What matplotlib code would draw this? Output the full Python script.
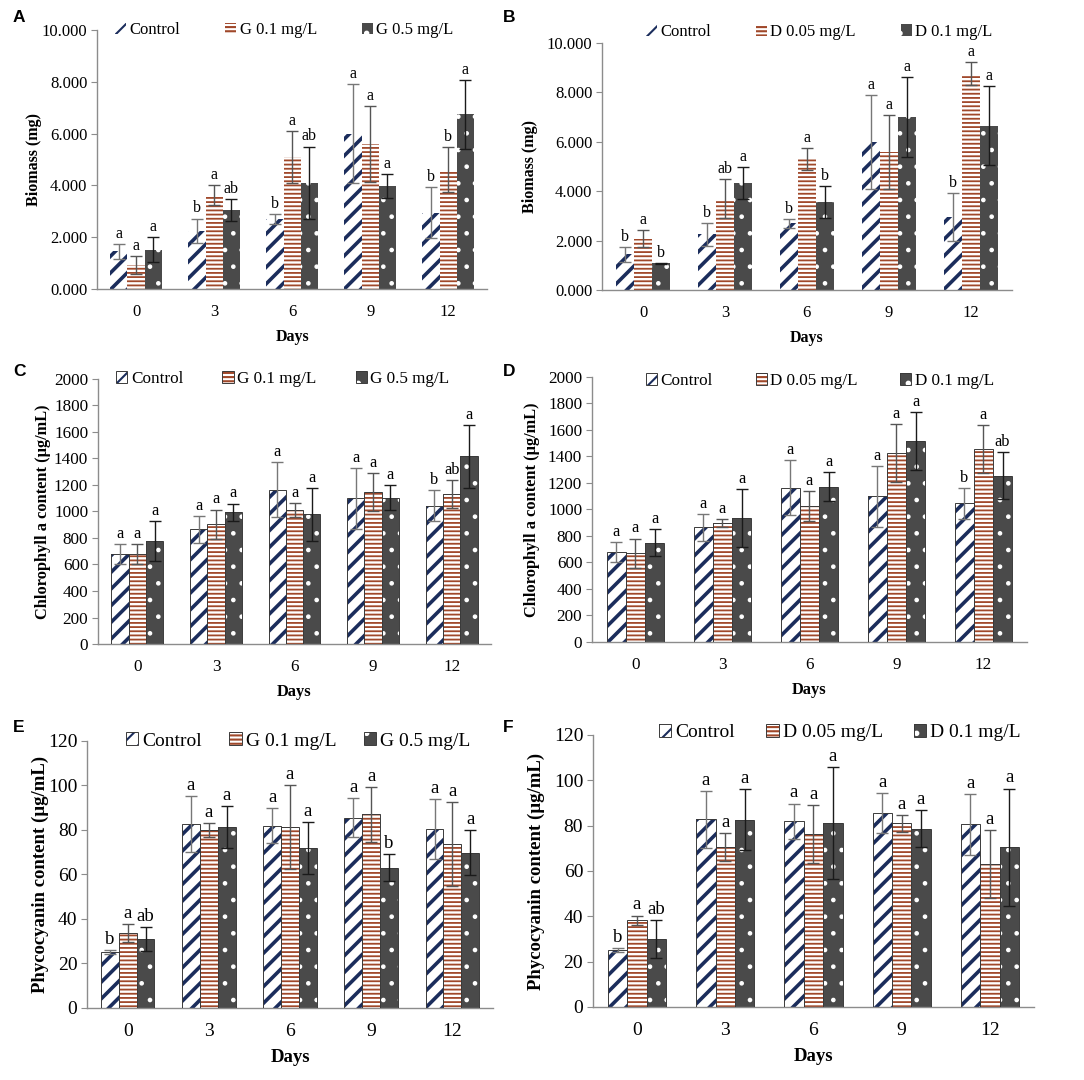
import matplotlib
matplotlib.use("Agg")
import matplotlib as mpl
import matplotlib.pyplot as plt
from matplotlib.patches import Patch
from matplotlib.ticker import FormatStrFormatter
import numpy as np

plt.rcParams['font.family'] = ['Liberation Serif', 'DejaVu Serif']
plt.rcParams['hatch.linewidth'] = 1.5

days = ['0', '3', '6', '9', '12']

# ---- Biomass (mg) ----
ctrl_bio = [1.45, 2.25, 2.70, 6.00, 2.95]
ctrl_bio_err = [0.30, 0.47, 0.18, 1.90, 0.97]
ctrl_bio_let_g = ['a', 'b', 'b', 'a', 'b']
ctrl_bio_let_d = ['b', 'b', 'b', 'a', 'b']
g01_bio = [0.93, 3.62, 5.10, 5.60, 4.60]
g01_bio_err = [0.34, 0.38, 1.00, 1.47, 0.87]
g01_bio_let = ['a', 'a', 'a', 'a', 'b']
g05_bio = [1.52, 3.05, 4.10, 3.97, 6.75]
g05_bio_err = [0.48, 0.42, 1.40, 0.46, 1.33]
g05_bio_let = ['a', 'ab', 'ab', 'a', 'a']
d005_bio = [2.08, 3.70, 5.30, 5.60, 8.75]
d005_bio_err = [0.34, 0.80, 0.45, 1.50, 0.47]
d005_bio_let = ['a', 'ab', 'a', 'a', 'a']
d01_bio = [1.08, 4.32, 3.55, 7.00, 6.65]
d01_bio_err = [0.02, 0.65, 0.65, 1.62, 1.60]
d01_bio_let = ['b', 'a', 'b', 'a', 'a']

# ---- Chlorophyll a content (ug/mL) ----
ctrl_chl = [680, 865, 1165, 1100, 1045]
ctrl_chl_err = [75, 100, 210, 230, 115]
ctrl_chl_let = ['a', 'a', 'a', 'a', 'b']
g01_chl = [680, 905, 1010, 1145, 1130]
g01_chl_err = [75, 110, 55, 145, 105]
g01_chl_let = ['a', 'a', 'a', 'a', 'ab']
g05_chl = [780, 995, 980, 1105, 1415]
g05_chl_err = [150, 65, 200, 95, 240]
g05_chl_let = ['a', 'a', 'a', 'a', 'a']
d005_chl = [670, 900, 1025, 1425, 1455]
d005_chl_err = [110, 30, 115, 220, 180]
d005_chl_let = ['a', 'a', 'a', 'a', 'a']
d01_chl = [750, 935, 1170, 1515, 1255]
d01_chl_err = [100, 220, 110, 220, 180]
d01_chl_let = ['a', 'a', 'a', 'a', 'ab']

# ---- Phycocyanin content (ug/mL) ----
ctrl_pc = [25.2, 82.8, 82.0, 85.6, 80.5]
ctrl_pc_err = [0.8, 12.5, 7.7, 8.7, 13.5]
ctrl_pc_let = ['b', 'a', 'a', 'a', 'a']
g01_pc = [33.7, 80.0, 81.3, 87.0, 73.6]
g01_pc_err = [3.9, 3.3, 19.0, 12.2, 19.0]
g01_pc_let = ['a', 'a', 'a', 'a', 'a']
g05_pc = [31.0, 81.3, 71.8, 63.0, 69.8]
g05_pc_err = [5.3, 9.4, 11.6, 6.0, 10.2]
g05_pc_let = ['ab', 'a', 'a', 'b', 'a']
d005_pc = [38.3, 70.5, 76.4, 81.0, 63.2]
d005_pc_err = [2.0, 6.3, 12.8, 3.6, 15.0]
d005_pc_let = ['a', 'a', 'a', 'a', 'a']
d01_pc = [30.0, 82.7, 81.2, 78.6, 70.4]
d01_pc_err = [8.2, 13.5, 24.6, 8.2, 25.9]
d01_pc_let = ['ab', 'a', 'a', 'a', 'a']

g_labels = ['Control', 'G 0.1 mg/L', 'G 0.5 mg/L']
d_labels = ['Control', 'D 0.05 mg/L', 'D 0.1 mg/L']

# styles: (face, hatchcolor, hatch, errcolor, hatch linewidth)
styles = [
    ('white', '#1b2d5c', '//', '#777777', 2.6),
    ('white', '#a0482a', '----', '#555555', 1.3),
    ('#4a4a4a', 'white', '.', '#1a1a1a', 0.9),
]
edgecol = '#3a3a3a'


def with_hatch_lw(artist, lw):
    if hasattr(artist, 'set_hatch_linewidth'):
        try:
            artist.set_hatch_linewidth(lw)
        except Exception:
            pass
    orig = artist.draw

    def draw(renderer, _orig=orig, _lw=lw):
        with mpl.rc_context({'hatch.linewidth': _lw}):
            _orig(renderer)
    artist.draw = draw


fig = plt.figure(figsize=(10.84, 10.80), dpi=100)

panels = [
    # rect, letter, vals, errs, lets, labels, ymax, step, fmt, ylabel, fs,
    # legend anchor, column spacing, ylabel pad, draw bar edges
    ([0.0895, 0.7324, 0.360, 0.2398], 'A',
     [ctrl_bio, g01_bio, g05_bio], [ctrl_bio_err, g01_bio_err, g05_bio_err],
     [ctrl_bio_let_g, g01_bio_let, g05_bio_let], g_labels, 10, 2, '%.3f',
     'Biomass (mg)', 11.5, (0.48, 1.0), 2.7, 0, False),
    ([0.5554, 0.7315, 0.378, 0.2287], 'B',
     [ctrl_bio, d005_bio, d01_bio], [ctrl_bio_err, d005_bio_err, d01_bio_err],
     [ctrl_bio_let_d, d005_bio_let, d01_bio_let], d_labels, 10, 2, '%.3f',
     'Biomass (mg)', 11.5, (0.53, 1.045), 2.7, 6, False),
    ([0.0904, 0.4037, 0.3626, 0.2454], 'C',
     [ctrl_chl, g01_chl, g05_chl], [ctrl_chl_err, g01_chl_err, g05_chl_err],
     [ctrl_chl_let, g01_chl_let, g05_chl_let], g_labels, 2000, 200, '%d',
     'Chlorophyll a content (µg/mL)', 11.8, (0.47, 1.0), 2.3, 2, True),
    ([0.5461, 0.4056, 0.4013, 0.2454], 'D',
     [ctrl_chl, d005_chl, d01_chl], [ctrl_chl_err, d005_chl_err, d01_chl_err],
     [ctrl_chl_let, d005_chl_let, d01_chl_let], d_labels, 2000, 200, '%d',
     'Chlorophyll a content (µg/mL)', 11.8, (0.524, 0.985), 2.5, 6, True),
    ([0.0803, 0.0667, 0.3745, 0.2472], 'E',
     [ctrl_pc, g01_pc, g05_pc], [ctrl_pc_err, g01_pc_err, g05_pc_err],
     [ctrl_pc_let, g01_pc_let, g05_pc_let], g_labels, 120, 20, '%d',
     'Phycocyanin content (µg/mL)', 13.5, (0.52, 1.0), 1.4, -1, True),
    ([0.5470, 0.0676, 0.4068, 0.2519], 'F',
     [ctrl_pc, d005_pc, d01_pc], [ctrl_pc_err, d005_pc_err, d01_pc_err],
     [ctrl_pc_let, d005_pc_let, d01_pc_let], d_labels, 120, 20, '%d',
     'Phycocyanin content (µg/mL)', 13.5, (0.56, 1.01), 1.6, 6, True),
]

width = 0.22
x = np.arange(len(days))

for (rect, letter, vals, errs, lets, labels, ymax, step, fmt, ylabel, fs,
     anchor, colsp, ypad, edges) in panels:
    ax = fig.add_axes(rect)
    handles = []
    for i, (v, e, l) in enumerate(zip(vals, errs, lets)):
        face, hcol, hatch, ecol, hlw = styles[i]
        xi = x + (i - 1) * width
        bars = ax.bar(xi, v, width, color=face, edgecolor=hcol, hatch=hatch,
                      linewidth=0, zorder=2)
        for b in bars:
            with_hatch_lw(b, hlw)
        if edges:
            ax.bar(xi, v, width, fill=False, edgecolor=edgecol, linewidth=0.7, zorder=3)
        ax.errorbar(xi, v, yerr=e, fmt='none', ecolor=ecol, elinewidth=1.0,
                    capsize=4, capthick=1.0, zorder=4)
        for xx, vv, ee, ll in zip(xi, v, e, l):
            ax.text(xx, vv + ee + ymax * 0.008, ll, ha='center', va='bottom',
                    fontsize=fs, zorder=5)
        hp = Patch(facecolor=face, edgecolor=hcol, hatch=hatch, linewidth=0)
        with_hatch_lw(hp, hlw)
        if edges:
            ep = Patch(fill=False, edgecolor=edgecol, linewidth=0.7)
            handles.append((hp, ep))
        else:
            handles.append(hp)
    ax.set_xlim(-0.5, 4.5)
    ax.set_ylim(0, ymax)
    ax.set_yticks(np.arange(0, ymax + step / 2, step))
    ax.yaxis.set_major_formatter(FormatStrFormatter(fmt))
    ax.set_xticks(x)
    ax.set_xticklabels(days)
    for s in ['top', 'right']:
        ax.spines[s].set_visible(False)
    for s in ['left', 'bottom']:
        ax.spines[s].set_color('#8c8c8c')
        ax.spines[s].set_linewidth(1.0)
    ax.tick_params(axis='y', length=4, color='#8c8c8c', labelsize=fs + 0.5, pad=3)
    ax.tick_params(axis='x', length=0, labelsize=fs + 0.5, pad=11)
    ax.set_ylabel(ylabel, fontsize=fs, fontweight='bold', labelpad=ypad)
    ax.set_xlabel('Days', fontsize=fs, fontweight='bold', labelpad=6)
    leg = ax.legend(handles, labels, loc='center', bbox_to_anchor=anchor, ncol=3,
                    frameon=False, fontsize=fs + 0.5, handlelength=0.65,
                    handleheight=0.65, handletextpad=0.2, columnspacing=colsp,
                    borderaxespad=0)
    # panel letter
    pos = ax.get_position()
    lx = 13 / 1084 if pos.x0 < 0.3 else 503 / 1084
    ly = {'A': 17, 'B': 17, 'C': 372, 'D': 372, 'E': 727, 'F': 727}[letter]
    fig.text(lx, 1 - ly / 1080, letter, fontsize=12.5, fontweight='bold',
             family='Liberation Sans', ha='left', va='center')

fig.savefig('out.png', dpi=100)
